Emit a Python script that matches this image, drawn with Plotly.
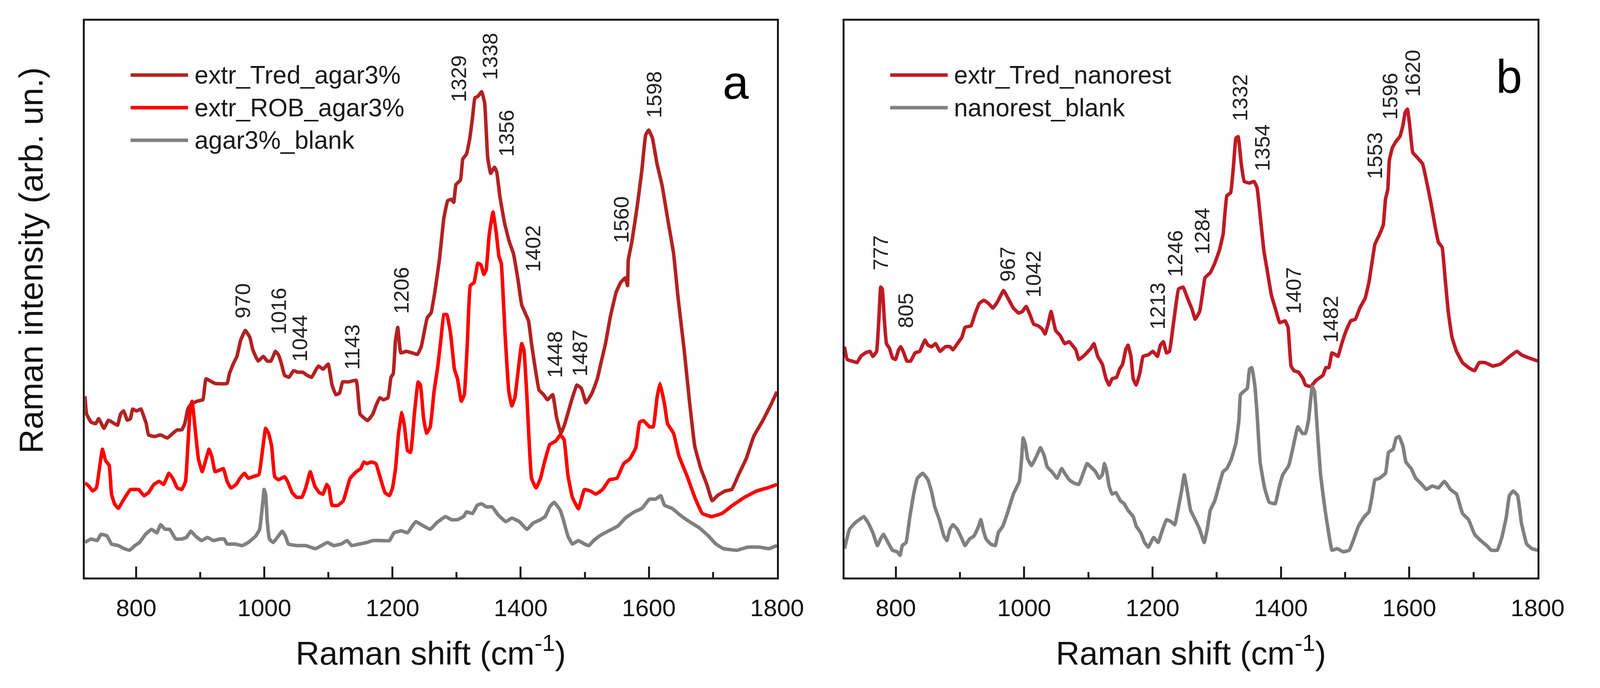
import plotly.graph_objects as go

# ---------------- panel a : extracts in agar 3% ----------------
tred_agar_x = [720.0, 722.6, 729.6, 736.7, 741.4, 749.7, 756.8, 766.2, 770.9, 775.6, 780.3, 786.2, 791.0, 794.5,
               800.4, 807.5, 812.2, 815.7, 819.3, 828.7, 838.1, 848.7, 857.0, 864.1, 871.1, 875.8, 880.6, 885.3,
               894.7, 904.1, 908.9, 923.0, 941.9, 945.4, 951.3, 957.2, 963.1, 970.2, 977.2, 982.0, 990.2, 998.5,
               1004.4, 1010.3, 1017.3, 1022.0, 1026.8, 1031.5, 1038.5, 1045.6, 1052.7, 1059.8, 1066.8, 1073.9,
               1081.0, 1084.4, 1091.5, 1099.7, 1105.6, 1111.5, 1117.4, 1122.1, 1131.6, 1143.4, 1149.3, 1161.1,
               1169.3, 1174.0, 1179.9, 1185.8, 1192.9, 1197.6, 1201.1, 1204.7, 1208.2, 1212.9, 1221.2, 1230.6,
               1238.9, 1244.8, 1254.2, 1260.1, 1266.0, 1273.1, 1280.1, 1286.0, 1292.0, 1295.5, 1299.0, 1306.1,
               1309.6, 1315.5, 1320.2, 1324.9, 1328.5, 1333.2, 1339.1, 1343.8, 1348.5, 1353.2, 1359.1, 1362.6,
               1367.4, 1374.4, 1381.7, 1388.6, 1395.7, 1401.6, 1412.2, 1416.9, 1428.7, 1435.8, 1441.7, 1450.0,
               1455.9, 1463.0, 1468.9, 1478.3, 1487.7, 1494.8, 1501.9, 1511.3, 1519.6, 1525.4, 1532.5, 1539.6,
               1549.0, 1556.1, 1563.2, 1566.7, 1567.9, 1573.8, 1582.0, 1589.1, 1595.0, 1599.7, 1605.6, 1612.7,
               1620.9, 1629.2, 1638.6, 1645.7, 1655.1, 1663.4, 1671.6, 1681.1, 1690.5, 1698.8, 1707.0, 1718.8,
               1729.4, 1740.0, 1751.8, 1763.6, 1777.8, 1789.5, 1800.0]
tred_agar_y = [468, 422, 401, 397, 410, 385, 406, 397, 393, 422, 430, 406, 410, 435,
               430, 435, 414, 397, 368, 364, 368, 360, 372, 381, 381, 397, 435, 447,
               455, 459, 513, 501, 501, 526, 551, 571, 613, 638, 621, 588, 559, 571,
               559, 559, 584, 575, 551, 522, 517, 534, 530, 530, 522, 517,
               538, 546, 538, 551, 497, 472, 476, 505, 505, 509, 422, 405,
               422, 443, 464, 459, 464, 517, 526, 613, 646, 580, 584, 580,
               576, 596, 671, 683, 737, 820, 928, 973, 977, 969, 1015, 1027,
               1081, 1094, 1131, 1189, 1239, 1243, 1255, 1226, 1085, 1044, 1060, 1048,
               986, 919, 870, 837, 770, 704, 663, 604, 484, 472, 459, 472,
               414, 372, 397, 451, 497, 488, 451, 476, 513, 555, 605, 671,
               737, 762, 774, 754, 820, 870, 961, 1052, 1143, 1156, 1135, 1069,
               1011, 928, 837, 721, 588, 455, 339, 281, 240, 198, 211, 223,
               227, 265, 306, 364, 405, 443, 480]

rob_agar_x = [720.0, 726.1, 732.0, 737.9, 742.6, 747.3, 752.1, 757.9, 761.5, 766.2, 772.1, 778.0, 782.7, 791.0,
              796.9, 803.9, 812.2, 819.3, 827.5, 835.8, 842.8, 851.1, 857.0, 864.1, 871.1, 877.0, 880.6, 884.1,
              887.2, 891.2, 897.1, 903.0, 907.7, 913.6, 918.3, 923.0, 930.1, 936.0, 941.9, 947.8, 956.0, 961.9,
              969.0, 974.9, 982.0, 991.4, 997.3, 1002.0, 1006.7, 1011.4, 1016.1, 1022.0, 1031.5, 1036.2, 1043.3,
              1050.3, 1058.6, 1064.5, 1071.6, 1078.6, 1085.6, 1091.5, 1097.4, 1100.9, 1105.6, 1115.1, 1123.3,
              1129.2, 1133.9, 1143.4, 1150.4, 1155.2, 1159.9, 1166.9, 1174.0, 1181.1, 1188.2, 1195.2, 1200.0,
              1204.7, 1209.4, 1214.6, 1218.8, 1223.5, 1228.2, 1234.1, 1240.0, 1243.6, 1248.3, 1253.0, 1258.9,
              1264.8, 1270.7, 1275.4, 1280.1, 1284.8, 1290.7, 1296.6, 1301.4, 1307.3, 1312.0, 1316.7, 1321.4,
              1327.3, 1333.2, 1337.9, 1342.6, 1346.2, 1350.9, 1356.8, 1361.5, 1366.2, 1369.7, 1375.6, 1381.5,
              1386.2, 1390.9, 1396.9, 1401.6, 1405.1, 1409.8, 1416.9, 1424.0, 1431.0, 1435.8, 1445.3, 1454.7,
              1461.8, 1467.7, 1473.6, 1480.6, 1490.1, 1499.5, 1508.9, 1517.2, 1527.8, 1538.4, 1550.2, 1560.8,
              1570.2, 1579.7, 1585.6, 1591.5, 1600.9, 1606.8, 1612.7, 1617.4, 1624.5, 1629.2, 1638.6, 1646.9,
              1659.8, 1671.6, 1683.4, 1697.6, 1714.1, 1730.6, 1749.5, 1768.3, 1784.8, 1800.0]
rob_agar_y = [244, 236, 223, 231, 281, 331, 302, 289, 215, 190, 178, 194, 207, 227,
              227, 227, 211, 219, 240, 248, 240, 269, 256, 231, 227, 248, 339, 430,
              455, 397, 306, 273, 298, 331, 310, 273, 277, 281, 248, 231, 240, 256,
              269, 256, 260, 265, 331, 385, 372, 339, 260, 252, 260, 248, 219,
              207, 207, 231, 273, 236, 219, 215, 240, 231, 186, 186, 198,
              231, 256, 273, 281, 298, 294, 298, 294, 256, 219, 211, 231,
              281, 372, 426, 389, 327, 323, 422, 505, 497, 414, 372, 389,
              480, 546, 613, 679, 679, 629, 538, 513, 455, 472, 604, 754,
              762, 812, 808, 783, 795, 886, 944, 895, 828, 812, 629, 480,
              443, 464, 546, 604, 588, 464, 256, 231, 256, 289, 343, 352,
              368, 356, 265, 207, 177, 227, 223, 215, 227, 252, 256, 294,
              306, 335, 401, 405, 389, 389, 463, 501, 447, 397, 372, 314,
              261, 207, 165, 157, 165, 186, 207, 223, 231, 240]

blank_agar_x = [720.0, 729.6, 739.1, 745.0, 754.4, 761.5, 772.1, 781.5, 789.8, 798.0, 805.1, 814.5, 824.0, 832.2,
                838.1, 845.2, 852.3, 861.7, 871.1, 878.2, 885.3, 892.4, 901.8, 911.2, 920.6, 930.1, 937.2, 941.9,
                953.7, 965.5, 974.9, 986.7, 992.6, 997.3, 999.6, 1002.0, 1004.4, 1007.9, 1013.8, 1022.0, 1027.9,
                1032.7, 1037.4, 1050.3, 1064.5, 1079.7, 1089.1, 1098.6, 1108.0, 1119.8, 1129.2, 1136.3, 1148.1,
                1159.9, 1169.3, 1181.1, 1195.2, 1202.3, 1214.1, 1223.5, 1230.6, 1236.5, 1244.8, 1258.9, 1268.3,
                1275.4, 1282.5, 1291.9, 1301.3, 1310.8, 1315.5, 1324.9, 1332.0, 1339.1, 1346.2, 1355.6, 1365.0,
                1376.8, 1386.2, 1398.0, 1409.8, 1419.3, 1431.0, 1438.2, 1445.3, 1452.3, 1461.8, 1466.5, 1473.6,
                1480.6, 1490.1, 1499.5, 1506.6, 1513.7, 1523.1, 1537.2, 1551.4, 1563.2, 1577.3, 1589.1, 1600.9,
                1610.3, 1618.6, 1624.5, 1636.3, 1645.7, 1655.1, 1666.9, 1678.7, 1692.9, 1704.6, 1716.4, 1737.7,
                1754.2, 1773.1, 1787.2, 1800.0]
blank_agar_y = [90, 99, 95, 111, 107, 86, 82, 74, 70, 82, 90, 111, 124, 115,
                136, 124, 124, 99, 99, 103, 119, 107, 95, 103, 95, 99, 99, 86,
                86, 82, 90, 107, 124, 190, 227, 215, 148, 99, 90, 107, 119,
                107, 86, 82, 82, 74, 82, 90, 82, 86, 95, 82, 86,
                90, 95, 95, 95, 115, 120, 115, 132, 144, 136, 124, 140,
                149, 157, 149, 149, 157, 169, 165, 186, 190, 182, 182, 161,
                144, 153, 144, 124, 140, 149, 157, 182, 194, 173, 149, 107,
                86, 95, 86, 82, 95, 107, 120, 132, 153, 169, 178, 202,
                202, 211, 186, 178, 165, 153, 140, 128, 107, 86, 74, 70,
                78, 78, 74, 82]

peaks_a_text = ["970", "1016", "1044", "1143", "1206", "1329", "1338", "1356", "1402", "1448", "1487", "1560", "1598"]
peaks_a_x = [966, 1022, 1055, 1137, 1213, 1303, 1352, 1378, 1419, 1453, 1492, 1557, 1608]
peaks_a_y = [667, 625, 555, 534, 679, 1226, 1284, 1085, 787, 513, 517, 861, 1185]

# ---------------- panel b : extract on nanorestore ----------------
tred_nano_x = [720.0, 724.3, 731.3, 739.6, 745.4, 752.5, 759.6, 764.3, 770.1, 773.7, 776.5, 778.9, 781.9, 785.4,
               790.1, 794.9, 799.6, 804.3, 807.8, 812.5, 817.2, 823.1, 830.1, 837.2, 845.4, 850.1, 856.0, 861.9,
               869.0, 877.2, 884.3, 889.0, 896.0, 903.1, 907.8, 917.2, 923.1, 930.1, 937.2, 944.3, 951.3, 958.4,
               967.8, 974.9, 983.1, 991.3, 997.2, 1003.1, 1009.0, 1014.9, 1021.9, 1027.8, 1032.5, 1037.2, 1041.9,
               1045.4, 1049.0, 1056.0, 1063.1, 1070.2, 1074.9, 1080.5, 1085.2, 1094.6, 1104.0, 1108.7, 1114.6,
               1121.7, 1127.6, 1132.3, 1137.0, 1144.0, 1148.7, 1153.4, 1158.1, 1161.7, 1166.4, 1169.9, 1174.6,
               1180.5, 1185.2, 1193.4, 1200.5, 1207.6, 1212.3, 1217.0, 1221.7, 1226.4, 1231.1, 1235.8, 1240.5,
               1247.6, 1254.6, 1261.7, 1266.4, 1273.4, 1278.2, 1281.7, 1289.9, 1297.0, 1304.1, 1309.9, 1315.8,
               1321.7, 1326.4, 1329.9, 1333.4, 1338.2, 1342.9, 1351.1, 1358.2, 1362.9, 1367.6, 1373.4, 1379.3,
               1385.2, 1391.1, 1398.2, 1406.4, 1411.1, 1415.8, 1420.5, 1427.6, 1434.6, 1438.3, 1446.5, 1454.8,
               1465.4, 1470.1, 1474.8, 1479.5, 1485.4, 1488.9, 1494.8, 1501.8, 1508.9, 1516.0, 1523.0, 1531.2,
               1537.1, 1541.8, 1546.5, 1553.6, 1559.5, 1563.0, 1566.5, 1568.9, 1573.6, 1579.5, 1585.4, 1590.1,
               1593.6, 1597.1, 1600.7, 1605.4, 1612.4, 1620.7, 1626.5, 1633.6, 1640.7, 1645.4, 1651.2, 1656.0,
               1660.7, 1666.5, 1673.6, 1683.0, 1692.4, 1701.8, 1708.9, 1718.3, 1730.1, 1741.8, 1753.6, 1767.7,
               1774.8, 1786.5, 1800.0]
tred_nano_y = [596, 563, 559, 555, 571, 580, 584, 571, 584, 671, 750, 745, 671, 604,
               592, 567, 563, 588, 596, 580, 559, 559, 580, 584, 613, 600, 596, 604,
               584, 596, 596, 588, 604, 621, 646, 650, 679, 708, 716, 708, 696, 712,
               741, 721, 696, 683, 687, 700, 679, 654, 650, 642, 629, 654, 687,
               663, 638, 625, 604, 609, 600, 588, 563, 575, 592, 604, 571,
               551, 513, 497, 513, 517, 538, 551, 588, 600, 571, 513, 497,
               530, 571, 575, 584, 571, 600, 609, 580, 584, 638, 696, 745,
               750, 721, 692, 667, 687, 737, 774, 787, 812, 845, 886, 986,
               994, 1069, 1135, 1139, 1069, 1023, 1019, 1023, 1007, 936, 845, 787,
               729, 696, 658, 663, 646, 546, 534, 530, 513, 497, 493, 509,
               522, 542, 542, 580, 575, 571, 604, 638, 663, 667, 696, 721,
               762, 812, 861, 886, 911, 978, 1002, 1077, 1110, 1127, 1139, 1168,
               1201, 1210, 1168, 1098, 1085, 1069, 1027, 969, 903, 866, 853, 770,
               687, 621, 584, 555, 542, 534, 555, 555, 546, 551, 567, 584,
               575, 567, 559]

blank_nano_x = [720.0, 727.8, 736.0, 743.1, 750.1, 757.2, 764.3, 771.3, 776.1, 780.7, 787.8, 794.8, 801.9, 806.6,
                810.1, 816.0, 821.9, 827.8, 833.7, 841.9, 850.1, 856.0, 860.7, 867.8, 874.9, 879.6, 884.3, 889.0,
                896.0, 903.1, 907.8, 914.9, 921.9, 929.0, 932.5, 936.0, 940.7, 947.8, 954.9, 959.6, 966.6, 973.7,
                978.4, 983.1, 987.8, 992.5, 996.0, 998.4, 1001.9, 1005.4, 1011.3, 1018.4, 1025.4, 1031.3, 1036.0,
                1043.1, 1051.3, 1058.4, 1063.1, 1070.2, 1077.2, 1085.2, 1091.1, 1098.1, 1104.0, 1111.1, 1117.0,
                1121.7, 1125.2, 1128.7, 1132.3, 1137.0, 1142.9, 1149.9, 1155.8, 1161.7, 1169.9, 1174.6, 1181.7,
                1187.6, 1193.4, 1201.7, 1208.7, 1215.8, 1221.7, 1228.7, 1234.6, 1240.5, 1245.2, 1249.4, 1253.4,
                1259.3, 1266.4, 1273.4, 1280.5, 1285.2, 1289.9, 1297.0, 1304.0, 1309.9, 1315.8, 1322.9, 1329.9,
                1334.6, 1337.0, 1341.7, 1347.6, 1351.1, 1354.6, 1359.3, 1362.9, 1367.6, 1374.6, 1381.7, 1391.1,
                1397.0, 1402.9, 1412.3, 1419.3, 1426.4, 1433.5, 1438.3, 1443.0, 1448.9, 1452.4, 1457.1, 1461.8,
                1468.9, 1475.9, 1479.5, 1487.7, 1497.1, 1506.5, 1513.6, 1520.7, 1530.1, 1537.1, 1541.8, 1546.5,
                1553.6, 1563.0, 1567.7, 1574.8, 1579.5, 1584.2, 1590.1, 1594.8, 1603.0, 1610.1, 1619.5, 1626.5,
                1635.9, 1645.4, 1654.8, 1664.2, 1673.6, 1683.0, 1692.4, 1701.8, 1711.3, 1720.7, 1727.7, 1737.1,
                1744.2, 1751.3, 1756.0, 1761.9, 1768.9, 1774.8, 1783.0, 1791.2, 1800.0]
blank_nano_y = [74, 124, 140, 149, 157, 140, 115, 82, 99, 111, 90, 70, 66, 57,
                82, 90, 157, 215, 256, 269, 252, 219, 182, 149, 107, 95, 124, 136,
                124, 99, 82, 99, 107, 132, 149, 124, 99, 86, 82, 115, 132, 165,
                190, 215, 231, 248, 306, 360, 343, 306, 289, 310, 335, 314, 285,
                273, 256, 281, 269, 252, 244, 240, 265, 294, 285, 273, 256,
                265, 294, 273, 236, 215, 219, 198, 190, 173, 157, 132, 115,
                90, 78, 103, 90, 124, 149, 144, 136, 182, 223, 265, 231,
                173, 149, 124, 90, 124, 173, 198, 240, 273, 281, 306, 347,
                406, 472, 480, 488, 538, 542, 497, 422, 298, 231, 194, 190,
                231, 265, 289, 339, 389, 372, 372, 406, 493, 480, 372, 265,
                173, 99, 70, 74, 66, 70, 99, 132, 157, 169, 207, 252,
                256, 269, 323, 331, 360, 364, 339, 298, 281, 256, 240, 227,
                236, 231, 248, 227, 215, 165, 149, 111, 95, 82, 70, 70,
                103, 157, 211, 223, 211, 140, 86, 74, 70]

peaks_b_text = ["777", "805", "967", "1042", "1213", "1246", "1284", "1332", "1354", "1407", "1482", "1553", "1596", "1620"]
peaks_b_x = [776, 815, 974, 1014, 1208, 1235, 1277, 1336, 1371, 1419, 1477, 1546, 1570, 1605]
peaks_b_y = [791, 642, 762, 721, 638, 774, 832, 1177, 1048, 679, 604, 1027, 1181, 1240]

FONT = "Liberation Sans, Arial, sans-serif"
NARROW = "Liberation Sans Narrow, Arial Narrow, Liberation Sans, Arial, sans-serif"
LINE_W = 9

panels = [
    dict(xa="x", ya="y", letter="a", letter_x=0.9404, letter_y=0.889,
         traces=[("extr_Tred_agar3%", tred_agar_x, tred_agar_y, "#b22222"),
                 ("extr_ROB_agar3%", rob_agar_x, rob_agar_y, "#ff0000"),
                 ("agar3%_blank", blank_agar_x, blank_agar_y, "#808080")],
         peaks=(peaks_a_text, peaks_a_x, peaks_a_y)),
    dict(xa="x2", ya="y2", letter="b", letter_x=0.959, letter_y=0.900,
         traces=[("extr_Tred_nanorest", tred_nano_x, tred_nano_y, "#be1b24"),
                 ("nanorest_blank", blank_nano_x, blank_nano_y, "#808080")],
         peaks=(peaks_b_text, peaks_b_x, peaks_b_y)),
]

fig = go.Figure()
annotations = []
shapes = []

for p in panels:
    xdom = p["xa"] + " domain"
    ydom = p["ya"] + " domain"
    for i, (name, xs, ys, col) in enumerate(p["traces"]):
        fig.add_trace(go.Scatter(x=xs, y=ys, mode="lines", name=name, showlegend=False,
                                 line=dict(color=col, width=LINE_W, shape="spline", smoothing=0.3),
                                 xaxis=p["xa"], yaxis=p["ya"]))
        # hand-made legend entry (long line sample like the original)
        row_y = 0.902 - i * 0.0585
        shapes.append(dict(type="line", xref=xdom, yref=ydom, x0=0.066, x1=0.149, y0=row_y, y1=row_y,
                           line=dict(color=col, width=LINE_W)))
        annotations.append(dict(xref=xdom, yref=ydom, x=0.157, y=row_y, text=name, showarrow=False,
                                xanchor="left", yanchor="middle", font=dict(family=FONT, size=64, color="#1a1a1a")))
    for t, px, py in zip(*p["peaks"]):
        annotations.append(dict(xref=p["xa"], yref=p["ya"], x=px, y=py, text=t, showarrow=False,
                                textangle=-90, xanchor="center", yanchor="bottom",
                                font=dict(family=NARROW, size=54, color="#222222")))
    annotations.append(dict(xref=xdom, yref=ydom, x=p["letter_x"], y=p["letter_y"], text=p["letter"],
                            showarrow=False, xanchor="center", yanchor="middle",
                            font=dict(family=FONT, size=120, color="#000000")))
    annotations.append(dict(xref=xdom, yref="paper", x=0.5, y=0.050, text="Raman shift (cm<sup>-1</sup>)",
                            showarrow=False, xanchor="center", yanchor="middle",
                            font=dict(family=FONT, size=84, color="#111111")))

annotations.append(dict(xref="paper", yref="paper", x=0.0176, y=0.6226, text="Raman intensity (arb. un.)",
                        showarrow=False, textangle=-90, xanchor="center", yanchor="middle",
                        font=dict(family=FONT, size=86, color="#111111")))

xaxis_style = dict(range=[720, 1800], showline=True, linecolor="#1a1a1a", linewidth=4.5, mirror=True,
                   ticks="inside", ticklen=28, tickwidth=4.5, tickcolor="#1a1a1a",
                   tick0=800, dtick=200, showgrid=False, zeroline=False,
                   minor=dict(ticks="inside", ticklen=14, tickwidth=4.5, tickcolor="#1a1a1a", dtick=100, showgrid=False),
                   tickfont=dict(family=FONT, size=62, color="#111111"), ticklabelstandoff=20)
yaxis_style = dict(range=[0, 1439], showline=True, linecolor="#1a1a1a", linewidth=4.5, mirror=True,
                   ticks="", showticklabels=False, showgrid=False, zeroline=False)

# no fixed size: the figure fills the browser window
fig.update_layout(
    autosize=True,
    margin=dict(l=0, r=0, t=0, b=0),
    paper_bgcolor="white", plot_bgcolor="white",
    xaxis=dict(domain=[0.05221, 0.49393], anchor="y", **xaxis_style),
    yaxis=dict(domain=[0.15778, 0.97446], anchor="x", **yaxis_style),
    xaxis2=dict(domain=[0.53698, 0.97939], anchor="y2", **xaxis_style),
    yaxis2=dict(domain=[0.15778, 0.97446], anchor="x2", **yaxis_style),
    annotations=annotations,
    shapes=shapes,
    showlegend=False,
)

fig.write_html("out.html")
